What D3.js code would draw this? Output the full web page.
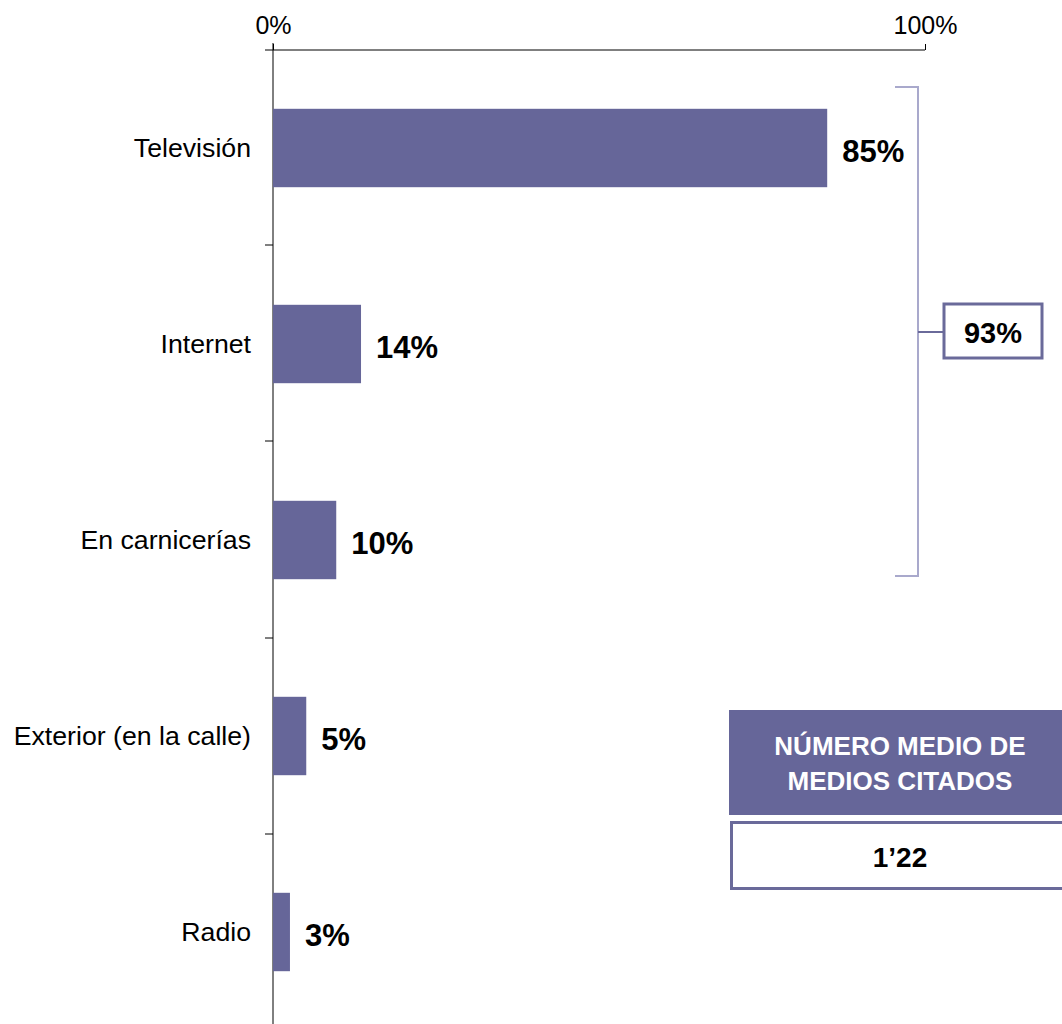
<!DOCTYPE html>
<html><head><meta charset="utf-8">
<script src="https://cdn.jsdelivr.net/npm/d3@7"></script>
<style>body{margin:0;background:#fff}</style>
</head><body>
<svg id="c" width="1062" height="1024"></svg>
<script>
const categories = ["Televisión","Internet","En carnicerías","Exterior (en la calle)","Radio"];
const values = [85, 13.5, 9.7, 5.1, 2.6];
const valueLabels = ["85%","14%","10%","5%","3%"];
const tickValues = [0, 100];
const bracketLabel = "93%";
const boxTitle = ["NÚMERO MEDIO DE","MEDIOS CITADOS"];
const boxValue = "1’22";

const svg = d3.select("#c");
const font = "'Liberation Sans', Arial, sans-serif";
const barColor = "#666699";

const x = d3.scaleLinear().domain([0,100]).range([273,925]);
const y = d3.scaleBand().domain(categories).range([50,1030]).paddingInner(0.6).paddingOuter(0.3);

// top axis
const xAxis = d3.axisTop(x).tickValues(tickValues).tickFormat(d=>d+"%").tickSize(6).tickSizeOuter(0);
const gx = svg.append("g").attr("transform","translate(0,50)").call(xAxis);
gx.select(".domain").remove();
gx.selectAll(".tick line").attr("stroke","#000");
gx.selectAll(".tick text").attr("font-family",font).attr("font-size",25).attr("fill","#000").attr("dy","-0.3em");
svg.append("line").attr("x1",265).attr("x2",x(100)).attr("y1",50).attr("y2",50).attr("stroke","#000");

// vertical axis
svg.append("line").attr("x1",273).attr("x2",273).attr("y1",43).attr("y2",1024).attr("stroke","#000");
const step = y.step();
categories.slice(1).forEach((c,i)=>{
  const yy = y(c) - y.paddingInner()*step/2 - 0.5;
  svg.append("line").attr("x1",265).attr("x2",273).attr("y1",Math.round(yy)).attr("y2",Math.round(yy)).attr("stroke","#000");
});

// bars
svg.selectAll("rect.bar").data(categories).join("rect").attr("class","bar")
  .attr("x",x(0)).attr("y",d=>y(d)).attr("width",(d,i)=>x(values[i])-x(0)).attr("height",y.bandwidth())
  .attr("fill",barColor);

// category labels
svg.selectAll("text.cat").data(categories).join("text").attr("class","cat")
  .attr("x",251).attr("y",d=>y(d)+y.bandwidth()/2).attr("dy","0.35em")
  .attr("text-anchor","end").attr("font-family",font).attr("font-size",26.7).attr("fill","#000").text(d=>d);

// value labels
svg.selectAll("text.val").data(categories).join("text").attr("class","val")
  .attr("x",(d,i)=>x(values[i])+15).attr("y",d=>y(d)+y.bandwidth()/2+3).attr("dy","0.35em")
  .attr("font-family",font).attr("font-size",31).attr("font-weight","bold").attr("fill","#000").text((d,i)=>valueLabels[i]);

// bracket
const bx = 918, bTop = 87, bBot = 576;
const bc = "#a9a9cc";
svg.append("path").attr("d",`M895,${bTop}H${bx}V${bBot}H895`).attr("fill","none").attr("stroke",bc).attr("stroke-width",2);
svg.append("line").attr("x1",bx).attr("x2",943).attr("y1",332).attr("y2",332).attr("stroke","#6a6a9a").attr("stroke-width",2);
svg.append("rect").attr("x",944).attr("y",304).attr("width",98).attr("height",54).attr("fill","#fff").attr("stroke","#6a6a9a").attr("stroke-width",3);
svg.append("text").attr("x",993).attr("y",333).attr("dy","0.35em").attr("text-anchor","middle")
  .attr("font-family",font).attr("font-size",29).attr("font-weight","bold").text(bracketLabel);

// info box
svg.append("rect").attr("x",729).attr("y",710).attr("width",340).attr("height",105).attr("fill",barColor);
boxTitle.forEach((t,i)=>{
  svg.append("text").attr("x",900).attr("y",746+i*35).attr("dy","0.35em").attr("text-anchor","middle")
    .attr("font-family",font).attr("font-size",26).attr("font-weight","bold").attr("fill","#fff").text(t);
});
svg.append("rect").attr("x",731.5).attr("y",822.5).attr("width",340).attr("height",66).attr("fill","#fff").attr("stroke","#6a6a9a").attr("stroke-width",3);
svg.append("text").attr("x",900).attr("y",857).attr("dy","0.35em").attr("text-anchor","middle")
  .attr("font-family",font).attr("font-size",28).attr("font-weight","bold").text(boxValue);
</script>
</body></html>
